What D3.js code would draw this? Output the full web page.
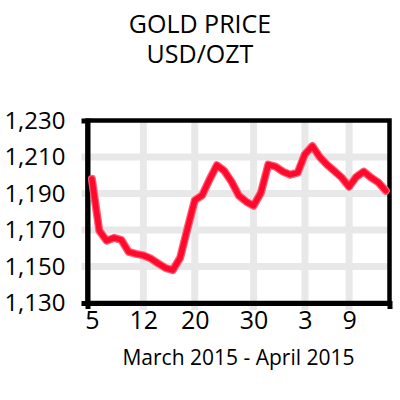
<!DOCTYPE html>
<html>
<head>
<meta charset="utf-8">
<script src="https://cdn.jsdelivr.net/npm/d3@7"></script>
<style>
  body { margin: 0; background: #fff; }
  svg { display: block; font-family: "Open Sans", sans-serif; }
</style>
</head>
<body>
<svg width="400" height="400"></svg>
<script>
// **** data ****

// gold price per point, March 5 2015 .. mid April 2015
var prices = [
    1198, 1169.7, 1164.1, 1165.7, 1164.6, 1158, 1156.9, 1156.1, 1154.4, 1151.7,
    1149.2, 1148, 1154.7, 1170.7, 1186.3, 1189, 1197.6, 1205.5, 1202.5, 1196.5,
    1188.8, 1185.5, 1183.3, 1190.4, 1205.8, 1204.7, 1202, 1200.3, 1201.4, 1211.6,
    1216, 1210, 1205.8, 1202.3, 1198.7, 1193.7, 1199.2, 1202, 1198.7, 1196,
    1191.5
];

// x tick labels and the point they sit on
var xTickLabels = ['5', '12', '20', '30', '3', '9'];
var xTickIndex = [0, 7, 14, 22, 29, 35];

var yTicks = [1130, 1150, 1170, 1190, 1210, 1230];

// **** scales ****

var plotLeft = 87.5, plotRight = 389.5, plotTop = 120.5, plotBottom = 303;

var xScale = d3.scaleLinear()
    .domain([-0.6, 40.5]).range([plotLeft, plotRight]);

var yScale = d3.scaleLinear()
    .domain([1130, 1230]).range([plotBottom, plotTop]);

var svg = d3.select('svg');

// gridlines
svg.append('g').selectAll('line')
    .data(yTicks.slice(1, -1)).enter()
    .append('line')
    .attr('x1', plotLeft - 6)
    .attr('x2', plotRight)
    .attr('y1', function (d) { return yScale(d); })
    .attr('y2', function (d) { return yScale(d); })
    .style('stroke', '#e8e8e8')
    .style('stroke-width', 7);

svg.append('g').selectAll('line')
    .data(xTickIndex.slice(1)).enter()
    .append('line')
    .attr('x1', function (d) { return xScale(d); })
    .attr('x2', function (d) { return xScale(d); })
    .attr('y1', plotTop)
    .attr('y2', plotBottom + 7)
    .style('stroke', '#e8e8e8')
    .style('stroke-width', 7);

// frame
svg.append('rect')
    .attr('x', plotLeft).attr('y', plotTop)
    .attr('width', plotRight - plotLeft).attr('height', plotBottom - plotTop)
    .style('fill', 'none')
    .style('stroke', '#000')
    .style('stroke-width', 4.5);

// axes
var yAxis = svg.append('g')
    .attr('transform', 'translate(' + plotLeft + ',0)')
    .call(d3.axisLeft(yScale)
        .tickValues(yTicks)
        .tickFormat(d3.format(','))
        .tickSizeInner(0).tickSizeOuter(6).tickPadding(22));

var xAxis = svg.append('g')
    .attr('transform', 'translate(0,' + plotBottom + ')')
    .call(d3.axisBottom(xScale)
        .tickValues(xTickIndex)
        .tickFormat(function (d, i) { return xTickLabels[i]; })
        .tickSizeInner(0).tickSizeOuter(6).tickPadding(8));

svg.selectAll('.domain')
    .style('stroke', '#000')
    .style('stroke-width', 5);

yAxis.selectAll('text')
    .style('font-family', '"Open Sans", sans-serif')
    .style('font-size', '24px')
    .style('fill', '#000');

xAxis.selectAll('text')
    .style('font-family', '"Open Sans", sans-serif')
    .style('font-size', '25px')
    .style('fill', '#000');

// price line
var line = d3.line()
    .x(function (d, i) { return xScale(i); })
    .y(function (d) { return yScale(d); });

svg.append('path')
    .datum(prices)
    .attr('d', line)
    .style('fill', 'none')
    .style('stroke', '#ff5c7a')
    .style('stroke-width', 8)
    .style('stroke-linejoin', 'round')
    .style('stroke-linecap', 'round');

svg.append('path')
    .datum(prices)
    .attr('d', line)
    .style('fill', 'none')
    .style('stroke', '#ff0a2a')
    .style('stroke-width', 5.5)
    .style('stroke-linejoin', 'round')
    .style('stroke-linecap', 'round');

// titles
svg.append('text')
    .attr('x', 200).attr('y', 33)
    .attr('text-anchor', 'middle')
    .style('font-size', '25px')
    .text('GOLD PRICE');

svg.append('text')
    .attr('x', 200).attr('y', 63)
    .attr('text-anchor', 'middle')
    .style('font-size', '25px')
    .text('USD/OZT');

svg.append('text')
    .attr('x', (plotLeft + plotRight) / 2).attr('y', 365)
    .attr('text-anchor', 'middle')
    .style('font-size', '21px')
    .text('March 2015 - April 2015');
</script>
</body>
</html>
